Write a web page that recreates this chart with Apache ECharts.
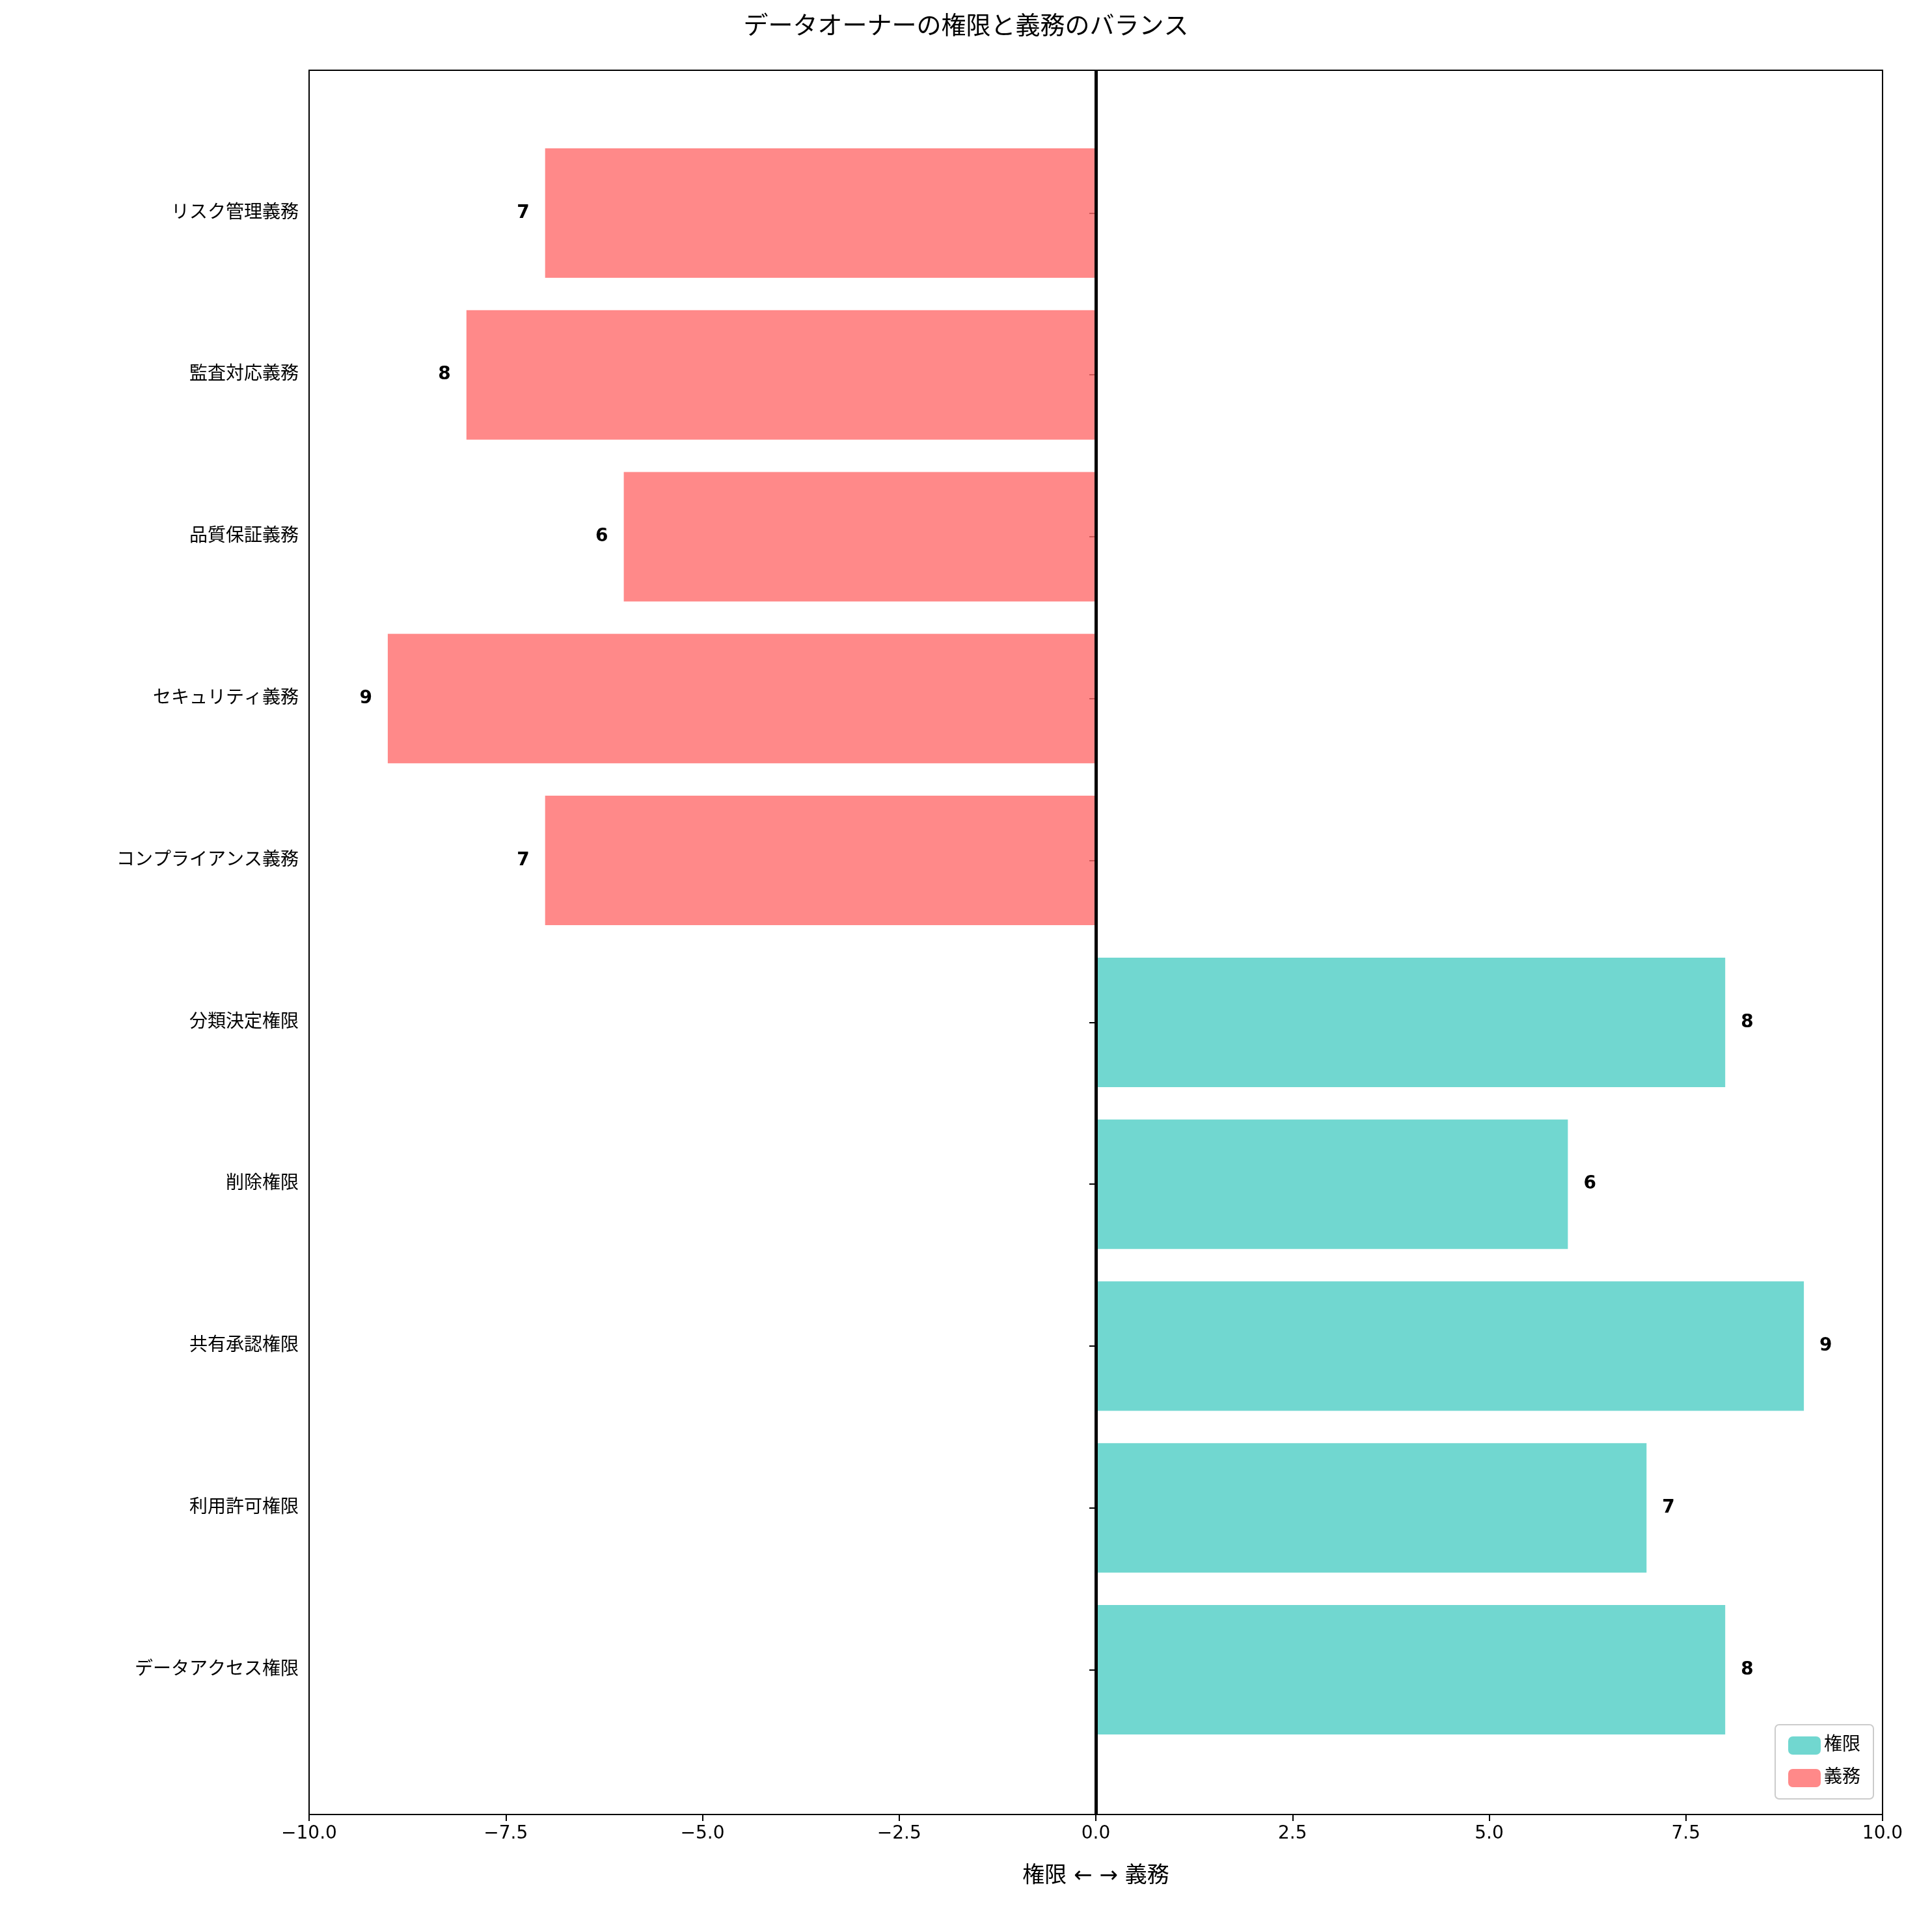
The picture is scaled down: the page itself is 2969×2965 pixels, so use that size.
<!DOCTYPE html>
<html>
<head>
<meta charset="utf-8">
<script src="https://cdn.jsdelivr.net/npm/echarts@6/dist/echarts.min.js"></script>
<style>html,body{margin:0;padding:0;background:#fff}#c{width:2969px;height:2965px}</style>
</head>
<body>
<div id="c"></div>
<script>
// categories bottom to top
var categories = ['データアクセス権限','利用許可権限','共有承認権限','削除権限','分類決定権限',
  'コンプライアンス義務','セキュリティ義務','品質保証義務','監査対応義務','リスク管理義務'];
var rights = [8, 7, 9, 6, 8, '-', '-', '-', '-', '-'];
var duties = ['-', '-', '-', '-', '-', -7, -9, -6, -8, -7];
var xTicks = [-10, -7.5, -5, -2.5, 0, 2.5, 5, 7.5, 10];

var font = '"DejaVu Sans", "Noto Sans CJK JP", sans-serif';
var chart = echarts.init(document.getElementById('c'));
var labelStyle = {show: true, fontWeight: 'bold', fontSize: 28, color: '#000', fontFamily: font, distance: 24,
  formatter: function (p) { return Math.abs(p.value); }};

chart.setOption({
  animation: false,
  title: {text: 'データオーナーの権限と義務のバランス', left: 'center', top: 18,
    textStyle: {fontSize: 38, fontWeight: 'normal', color: '#000', fontFamily: font}},
  legend: {right: 90, bottom: 200, orient: 'vertical', itemWidth: 50, itemHeight: 28, itemGap: 22,
    backgroundColor: '#fff', borderColor: '#ccc', borderWidth: 2, borderRadius: 6, padding: [18, 20],
    textStyle: {fontSize: 28, fontFamily: font, color: '#000'}, data: ['権限', '義務']},
  grid: [
    {left: 475, width: 2418, top: 108, height: 2681, show: true, borderColor: '#000', borderWidth: 2, backgroundColor: 'transparent'},
    {left: 475, width: 2418, top: 203, height: 2488}
  ],
  xAxis: [
    {gridIndex: 0, type: 'value', min: -10, max: 10, interval: 2.5,
      name: '権限 ← → 義務', nameLocation: 'middle', nameGap: 78,
      nameTextStyle: {fontSize: 34, fontFamily: font, color: '#000'},
      axisLine: {show: false}, splitLine: {show: false},
      axisTick: {show: true, length: 10, lineStyle: {color: '#000', width: 2}},
      axisLabel: {fontSize: 28, color: '#000', fontFamily: font, margin: 16,
        formatter: function (v) { return (v < 0 ? '\u2212' : '') + Math.abs(v).toFixed(1); }}},
    {gridIndex: 1, type: 'value', min: -10, max: 10, show: false}
  ],
  yAxis: [
    {gridIndex: 0, type: 'value', min: 0, max: 1, show: false},
    {gridIndex: 1, type: 'category', data: categories,
      axisLine: {show: false},
      axisTick: {show: true, alignWithLabel: true, length: 10, lineStyle: {color: '#000', width: 2}},
      axisLabel: {fontSize: 28, color: '#000', fontFamily: font, margin: 16}}
  ],
  series: [
    {name: '権限', type: 'bar', xAxisIndex: 1, yAxisIndex: 1, stack: 'a', barWidth: '80%', data: rights,
      itemStyle: {color: 'rgba(78,205,196,0.8)'}, label: Object.assign({position: 'right'}, labelStyle)},
    {name: '義務', type: 'bar', xAxisIndex: 1, yAxisIndex: 1, stack: 'a', barWidth: '80%', data: duties,
      itemStyle: {color: 'rgba(255,107,107,0.8)'}, label: Object.assign({position: 'left'}, labelStyle)},
    {type: 'line', xAxisIndex: 0, yAxisIndex: 0, data: [], silent: true,
      markLine: {symbol: 'none', silent: true, label: {show: false},
        lineStyle: {color: '#000', width: 5, type: 'solid'}, data: [{xAxis: 0}]}}
  ]
});
</script>
</body>
</html>
